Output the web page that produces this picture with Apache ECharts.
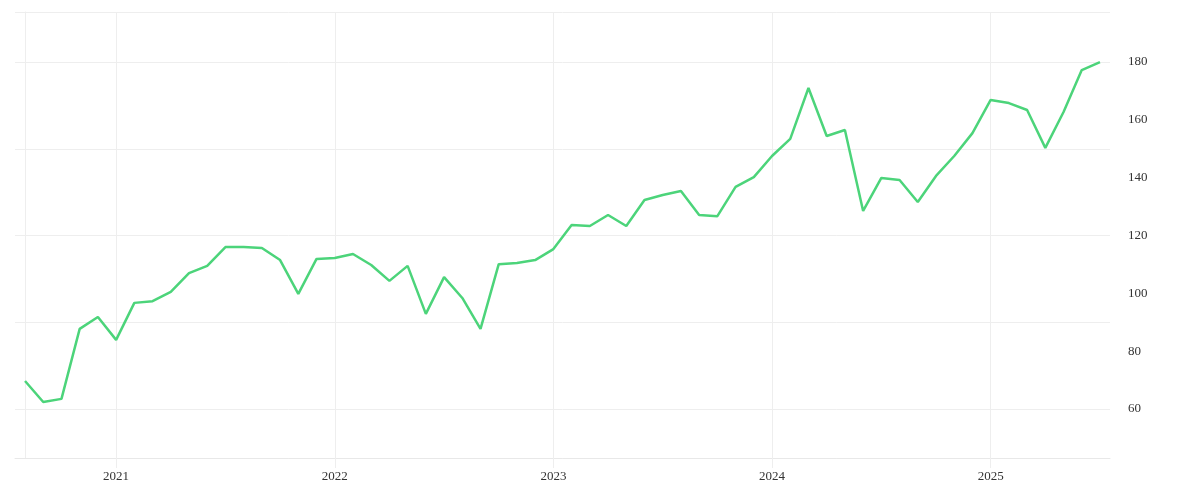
<!DOCTYPE html>
<html><head><meta charset="utf-8">
<script src="https://cdn.jsdelivr.net/npm/echarts@6/dist/echarts.min.js"></script>
<style>html,body{margin:0;padding:0;background:#fff}#c{width:1200px;height:500px}</style>
</head><body><div id="c"></div>
<script>
// month index 0 = Aug 2020
const values = [69.7,62.4,63.5,87.7,91.8,83.9,96.7,97.3,100.5,107,109.5,116,116,115.7,111.5,99.8,111.9,112.2,113.6,109.8,104.3,109.5,92.9,105.6,98.4,87.7,110.1,110.5,111.5,115.3,123.6,123.3,127.1,123.3,132.3,134,135.4,127.1,126.7,136.8,140.2,147.5,153.4,171,154.4,156.5,128.5,139.9,139.2,131.6,140.6,147.5,155.4,166.9,165.8,163.4,150.3,162.7,177.2,180];
const yearTicks = [5,17,29,41,53];
const yearLabels = ['2021','2022','2023','2024','2025'];
const yTicks = [60,80,100,120,140,160,180];
const data = values.map((v,i)=>[i,v]);
const font = 'Liberation Serif';
const chart = echarts.init(document.getElementById('c'));
chart.setOption({
  animation:false,
  grid:{left:15,right:90,top:12,bottom:42},
  xAxis:{type:'value',min:-0.55,max:59.55,
    axisLine:{show:true,lineStyle:{color:'#e8e8e8'}},
    axisTick:{show:true,length:10,lineStyle:{color:'#eeeeee'},customValues:yearTicks},
    splitLine:{show:true,lineStyle:{color:'#eeeeee'},customValues:yearTicks},
    axisLabel:{customValues:yearTicks,color:'#333',fontFamily:font,fontSize:13,margin:12,
      formatter:v=>yearLabels[yearTicks.indexOf(Math.round(v))]||''}
  },
  yAxis:{type:'value',position:'right',min:43.05,max:197.3,
    axisLine:{show:true,lineStyle:{color:'#eeeeee'}},
    axisTick:{show:false},
    splitLine:{show:true,lineStyle:{color:'#eeeeee'},customValues:yTicks},
    axisLabel:{customValues:yTicks,color:'#333',fontFamily:font,fontSize:13,margin:18}
  },
  series:[{type:'line',data:data,showSymbol:false,lineStyle:{color:'#4cd47a',width:2.5},itemStyle:{color:'#4cd47a'}}]
});
</script></body></html>
